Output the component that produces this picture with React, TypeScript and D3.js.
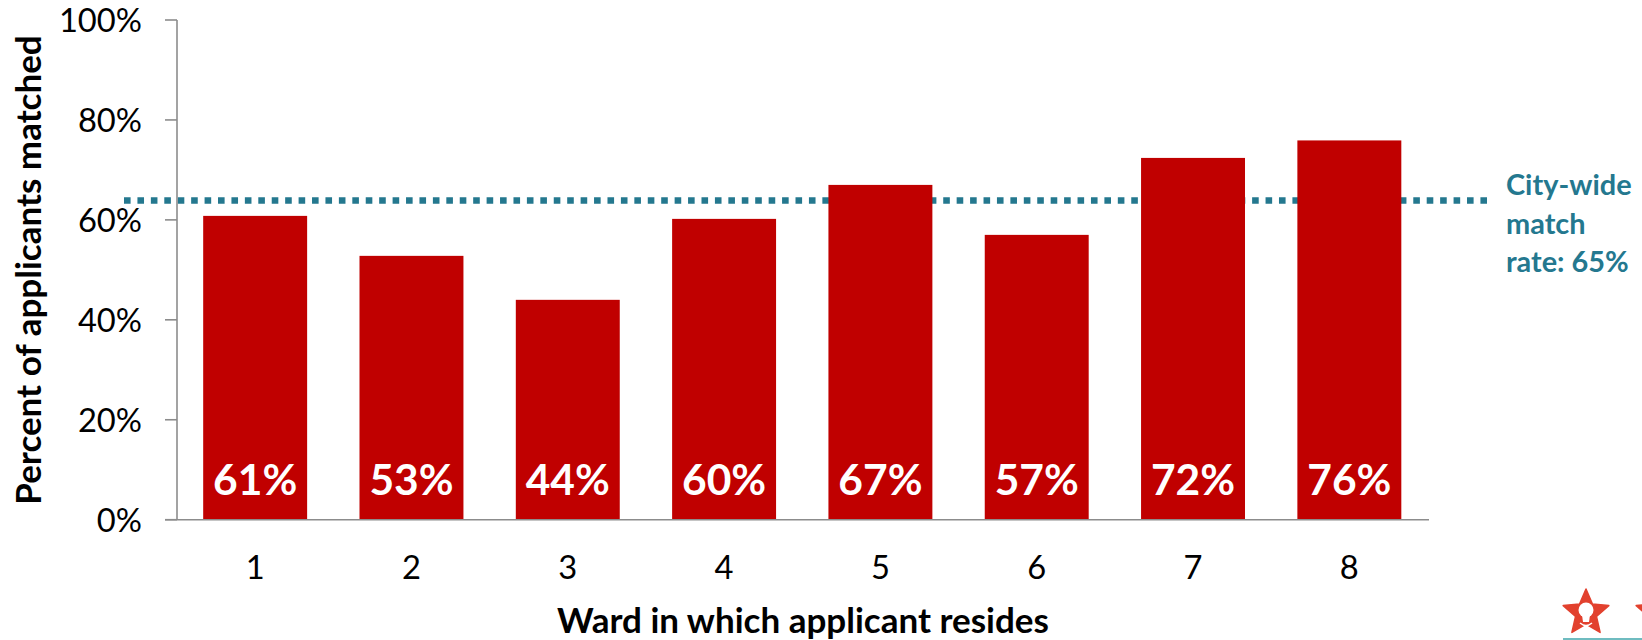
import React from "react";
import * as d3 from "d3";

const wards = ["1", "2", "3", "4", "5", "6", "7", "8"];
const matchRates = [60.8, 52.8, 44, 60.2, 67, 57, 72.4, 75.9];
const barLabels = ["61%", "53%", "44%", "60%", "67%", "57%", "72%", "76%"];
const yTicks = [0, 20, 40, 60, 80, 100];
const cityWideLine = 63.9;
const cityWideLabel = ["City-wide", "match", "rate: 65%"];
const xTitle = "Ward in which applicant resides";
const yTitle = "Percent of applicants matched";

const FONT = "Lato, 'Open Sans', sans-serif";
const RED = "#c00000";
const TEAL = "#24788f";
const AXIS = "#8c8c8c";

const x = d3.scaleBand<string>().domain(wards).range([177, 1427.5]).paddingInner(0.335).paddingOuter(0.1675);
const y = d3.scaleLinear().domain([0, 100]).range([519.7, 20]);

const starPath = (d3.lineRadial<number>()
  .angle((_, i) => (i * Math.PI) / 5)
  .radius((d) => d)
  .curve(d3.curveLinearClosed))([24, 11, 24, 11, 24, 11, 24, 11, 24, 11]) as string;

function Star({ cx, cy }: { cx: number; cy: number }) {
  return (
    <g transform={`translate(${cx},${cy})`}>
      <path d={starPath} fill="#e2412e" stroke="#e2412e" strokeWidth={1.5} strokeLinejoin="round" />
      <circle cx={0} cy={-3} r={7.5} fill="#fff" />
      <path d="M-4,2 L4,2 L3,9 L-3,9 Z" fill="#fff" />
      <path d="M-6,10 Q0,15 6,10" fill="none" stroke="#fff" strokeWidth={1.5} />
    </g>
  );
}

export default function App() {
  return (
    <svg
      width={1642}
      height={640}
      viewBox="0 0 1642 640"
      style={{ position: "absolute", left: 0, top: 0, background: "#fff" }}
      fontFamily={FONT}
    >
      <line
        x1={124}
        x2={1487}
        y1={y(cityWideLine)}
        y2={y(cityWideLine)}
        stroke={TEAL}
        strokeWidth={6.5}
        strokeDasharray="6.6 6.83"
      />
      {wards.map((w, i) => (
        <rect key={w} x={x(w)} y={y(matchRates[i])} width={x.bandwidth()} height={y(0) - y(matchRates[i])} fill={RED} />
      ))}
      <line x1={177} x2={177} y1={y(100)} y2={y(0)} stroke={AXIS} strokeWidth={1.6} />
      <line x1={165} x2={1429} y1={y(0)} y2={y(0)} stroke={AXIS} strokeWidth={1.6} />
      {yTicks.map((t) => (
        <g key={t}>
          <line x1={165} x2={177} y1={y(t)} y2={y(t)} stroke={AXIS} strokeWidth={1.6} />
          <text x={142} y={y(t) + 1} dy="0.35em" textAnchor="end" fontSize={32.7} fill="#000">
            {t}%
          </text>
        </g>
      ))}
      {wards.map((w, i) => (
        <g key={w}>
          <text
            x={(x(w) as number) + x.bandwidth() / 2}
            y={495}
            textAnchor="middle"
            fontSize={42.5}
            fontWeight={700}
            fill="#fff"
          >
            {barLabels[i]}
          </text>
          <text
            x={(x(w) as number) + x.bandwidth() / 2}
            y={579}
            textAnchor="middle"
            fontSize={32.7}
            fill="#000"
          >
            {w}
          </text>
        </g>
      ))}
      <text x={803} y={633} textAnchor="middle" fontSize={35} fontWeight={700} fill="#000">
        {xTitle}
      </text>
      <text
        transform="translate(41,270) rotate(-90)"
        textAnchor="middle"
        fontSize={35}
        fontWeight={700}
        fill="#000"
      >
        {yTitle}
      </text>
      {cityWideLabel.map((line, i) => (
        <text key={line} x={1506} y={195 + i * 38.5} fontSize={28.9} fontWeight={700} fill={TEAL}>
          {line}
        </text>
      ))}
      <Star cx={1586} cy={613} />
      <Star cx={1659} cy={613} />
      <line x1={1563} x2={1642} y1={639} y2={639} stroke="#6fbcc0" strokeWidth={2} />
    </svg>
  );
}
